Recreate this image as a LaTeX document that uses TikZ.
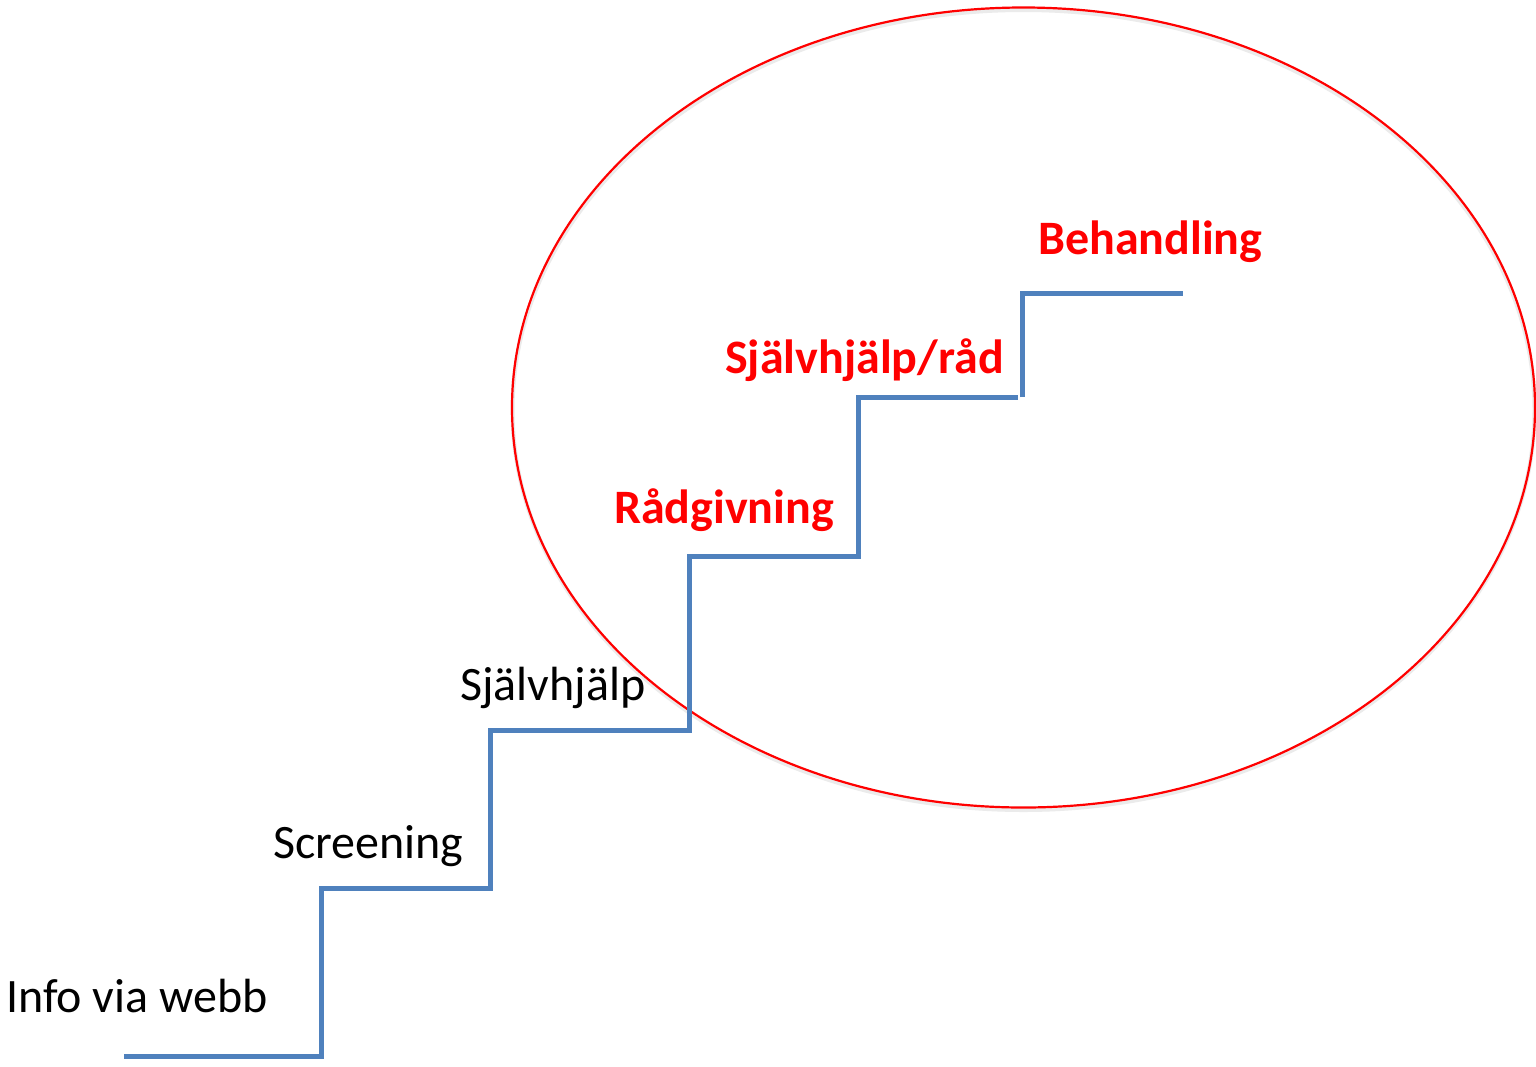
\documentclass[tikz,border=0pt]{standalone}
\usepackage{fontspec}
\setmainfont{Carlito}
\definecolor{stepblue}{HTML}{4F81BD}
\definecolor{labelred}{HTML}{FF0000}
\begin{document}
\begin{tikzpicture}[x=1pt,y=-1pt,
  stair/.style={draw=stepblue,line width=5pt,line join=miter},
  stairshadow/.style={draw=black!12,line width=5pt,line join=miter},
  blacklabel/.style={anchor=base west,inner sep=0pt,font=\fontsize{48}{57}\selectfont,text=black},
  redlabel/.style={anchor=base west,inner sep=0pt,font=\fontsize{48}{57}\selectfont\bfseries,text=labelred},
  ring/.style={draw=labelred,line width=2.2pt}]
\useasboundingbox[fill=white] (0,0) rectangle (1536,1066);
% ellipse
\draw[draw=black!8,line width=4pt] (1023.5,410) ellipse [x radius=511,y radius=400];
\draw[ring] (1023.5,407.5) ellipse [x radius=511.5,y radius=400];
% staircase corners
\coordinate (s0) at (124,1056);
\coordinate (c1) at (321,1056);
\coordinate (t1) at (321,888);
\coordinate (c2) at (490,888);
\coordinate (t2) at (490,730);
\coordinate (c3) at (689,730);
\coordinate (t3) at (689,556);
\coordinate (c4) at (858,556);
\coordinate (t4) at (858,397);
\coordinate (c5a) at (1018,397);
\coordinate (c5) at (1022,397);
\coordinate (t5) at (1022,293);
\coordinate (e6) at (1183,293);
% shadows
\begin{scope}[shift={(2,3)}]
\draw[stairshadow] (s0) -- (c1) -- (t1) -- (c2) -- (t2) -- (c3) -- (t3) -- (c4) -- (t4) -- (c5a);
\draw[stairshadow] (c5) -- (t5) -- (e6);
\end{scope}
\draw[stair] (s0) -- (c1) -- (t1) -- (c2) -- (t2) -- (c3) -- (t3) -- (c4) -- (t4) -- (c5a);
\draw[stair] (c5) -- (t5) -- (e6);
% labels
\node[blacklabel] (info) at (6,1012) {Info via webb};
\node[blacklabel] (scr) at (273,858) {Screening};
\node[blacklabel] (sjh) at (460,700) {Självhjälp};
\node[redlabel] (rad) at (614,523) {Rådgivning};
\node[redlabel] (sjr) at (725,373) {Självhjälp/råd};
\node[redlabel] (beh) at (1038,254) {Behandling};
\end{tikzpicture}
\end{document}
